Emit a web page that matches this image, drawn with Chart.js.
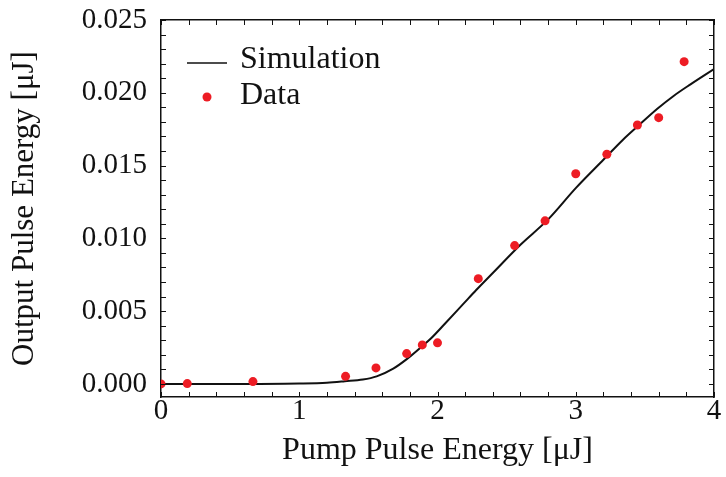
<!DOCTYPE html>
<html>
<head>
<meta charset="utf-8">
<script src="https://cdn.jsdelivr.net/npm/chart.js@4/dist/chart.umd.min.js"></script>
<style>
  html, body { margin: 0; padding: 0; background: #ffffff; }
  #wrap { width: 726px; height: 477px; position: relative; }
</style>
</head>
<body>
<div id="wrap"><canvas id="c" width="726" height="477"></canvas></div>
<script>
// ---- data ----
const simX = [0, 0.5, 1.0, 1.2, 1.33, 1.46, 1.56, 1.68, 1.78, 1.89, 1.95, 2.05, 2.19, 2.28, 2.4, 2.6, 2.8, 3.0, 3.2, 3.34, 3.46, 3.59, 3.71, 3.83, 4.0];
const simY = [0, 0, 0.00003, 0.00008, 0.00018, 0.0003, 0.00052, 0.00105, 0.00172, 0.0026, 0.0031, 0.0041, 0.00553, 0.00645, 0.00762, 0.00956, 0.0113, 0.01345, 0.0154, 0.01676, 0.0178, 0.0189, 0.0198, 0.02058, 0.02163];

const dataX = [0, 0.19, 0.665, 1.335, 1.555, 1.777, 1.89, 2.0, 2.295, 2.558, 2.778, 3.0, 3.225, 3.446, 3.6, 3.784];
const dataY = [0, 0.00002, 0.00016, 0.00052, 0.0011, 0.00208, 0.00268, 0.00282, 0.00723, 0.0095, 0.0112, 0.01444, 0.01578, 0.01779, 0.01829, 0.02214];

const xTicks = [0, 1, 2, 3, 4];
const xTickLabels = ['0', '1', '2', '3', '4'];
const yTicks = [0, 0.005, 0.010, 0.015, 0.020, 0.025];
const yTickLabels = ['0.000', '0.005', '0.010', '0.015', '0.020', '0.025'];

const seriesNames = ['Simulation', 'Data'];
const xTitle = 'Pump Pulse Energy [\u03bcJ]';
const yTitle = 'Output Pulse Energy [\u03bcJ]';

// ---- build ----
const RED = '#ed1c24';
const INK = '#111111';
const SERIF = '"Liberation Serif", "Times New Roman", serif';

const simPts = simX.map((x, i) => ({x: x, y: simY[i]}));
const dataPts = dataX.map((x, i) => ({x: x, y: dataY[i]}));

// inward tick marks on all four sides, positioned through the chart's scales
const innerTicks = {
  id: 'innerTicks',
  afterDatasetsDraw(chart) {
    const {ctx, chartArea: a, scales} = chart;
    const xs = scales.x, ys = scales.y;
    const len = 5;
    ctx.save();
    ctx.strokeStyle = INK;
    ctx.lineWidth = 1;
    ctx.beginPath();
    for (let k = 0; k <= 20; k++) {
      const px = Math.round(xs.getPixelForValue(k * 0.2)) + 0.5;
      ctx.moveTo(px, a.bottom); ctx.lineTo(px, a.bottom - len);
      ctx.moveTo(px, a.top); ctx.lineTo(px, a.top + len);
    }
    for (let k = 0; k <= 25; k++) {
      const py = Math.round(ys.getPixelForValue(k * 0.001)) + 0.5;
      ctx.moveTo(a.left, py); ctx.lineTo(a.left + len, py);
      ctx.moveTo(a.right, py); ctx.lineTo(a.right - len, py);
    }
    ctx.stroke();
    ctx.restore();
  }
};

// legend drawn inside the plot area (top-left), using the datasets' own styles
const insideLegend = {
  id: 'insideLegend',
  afterDraw(chart) {
    const {ctx, chartArea: a} = chart;
    const ds = chart.data.datasets;
    const x0 = a.left + 26, x1 = a.left + 66, tx = a.left + 79;
    const y1 = a.top + 39.5, y2 = a.top + 76;
    ctx.save();
    ctx.font = '32px ' + SERIF;
    ctx.fillStyle = INK;
    ctx.textBaseline = 'middle';
    ctx.textAlign = 'left';
    // Simulation
    ctx.strokeStyle = ds[0].borderColor;
    ctx.lineWidth = 1.5;
    ctx.beginPath();
    ctx.moveTo(x0, a.top + 43); ctx.lineTo(x1, a.top + 43);
    ctx.stroke();
    ctx.fillText(ds[0].label, tx, y1);
    // Data
    ctx.fillStyle = ds[1].backgroundColor;
    ctx.beginPath();
    ctx.arc((x0 + x1) / 2, a.top + 77, ds[1].pointRadius, 0, Math.PI * 2);
    ctx.fill();
    ctx.fillStyle = INK;
    ctx.fillText(ds[1].label, tx, y2);
    ctx.restore();
  }
};

new Chart(document.getElementById('c'), {
  type: 'scatter',
  data: {
    datasets: [
      {
        label: seriesNames[0],
        data: simPts,
        showLine: true,
        borderColor: INK,
        borderWidth: 2,
        pointRadius: 0,
        cubicInterpolationMode: 'monotone',
        fill: false,
        order: 2
      },
      {
        label: seriesNames[1],
        data: dataPts,
        showLine: false,
        backgroundColor: RED,
        borderColor: RED,
        borderWidth: 0,
        pointRadius: 4.5,
        order: 1
      }
    ]
  },
  options: {
    responsive: false,
    animation: false,
    devicePixelRatio: 1,
    layout: { padding: { left: 0, top: 20, right: 12, bottom: 0 } },
    plugins: {
      legend: { display: false },
      tooltip: { enabled: false }
    },
    scales: {
      x: {
        type: 'linear',
        position: 'bottom',
        min: 0, max: 4,
        afterBuildTicks: s => { s.ticks = xTicks.map(v => ({value: v})); },
        afterFit: s => { s.height = 80; s.paddingLeft = 0; s.paddingRight = 0; },
        ticks: {
          color: INK,
          font: { family: SERIF, size: 29, lineHeight: 1 },
          padding: 0,
          maxRotation: 0,
          callback: (v, i) => xTickLabels[i]
        },
        grid: { display: false, drawTicks: false },
        border: { display: true, color: INK, width: 1.5 },
        title: {
          display: true,
          text: xTitle,
          color: INK,
          font: { family: SERIF, size: 32, lineHeight: 1 },
          padding: { top: 0, bottom: 10 }
        }
      },
      y: {
        type: 'linear',
        position: 'left',
        min: -0.0009, max: 0.025,
        afterBuildTicks: s => { s.ticks = yTicks.map(v => ({value: v})); },
        afterFit: s => { s.width = 161; s.paddingTop = 0; s.paddingBottom = 0; },
        ticks: {
          color: INK,
          font: { family: SERIF, size: 29, lineHeight: 1 },
          padding: 14,
          callback: (v, i) => yTickLabels[i]
        },
        grid: { display: false, drawTicks: false },
        border: { display: true, color: INK, width: 1.5 },
        title: {
          display: true,
          text: yTitle,
          color: INK,
          font: { family: SERIF, size: 31, lineHeight: 1 },
          padding: { top: 9, bottom: 0 }
        }
      },
      x2: {
        type: 'linear',
        position: 'top',
        min: 0, max: 4,
        afterFit: s => { s.height = 0; },
        ticks: { display: false },
        grid: { display: false, drawTicks: false },
        border: { display: true, color: INK, width: 1.5 }
      },
      y2: {
        type: 'linear',
        position: 'right',
        min: -0.0009, max: 0.025,
        afterFit: s => { s.width = 0; },
        ticks: { display: false },
        grid: { display: false, drawTicks: false },
        border: { display: true, color: INK, width: 1.5 }
      }
    }
  },
  plugins: [innerTicks, insideLegend]
});
</script>
</body>
</html>
